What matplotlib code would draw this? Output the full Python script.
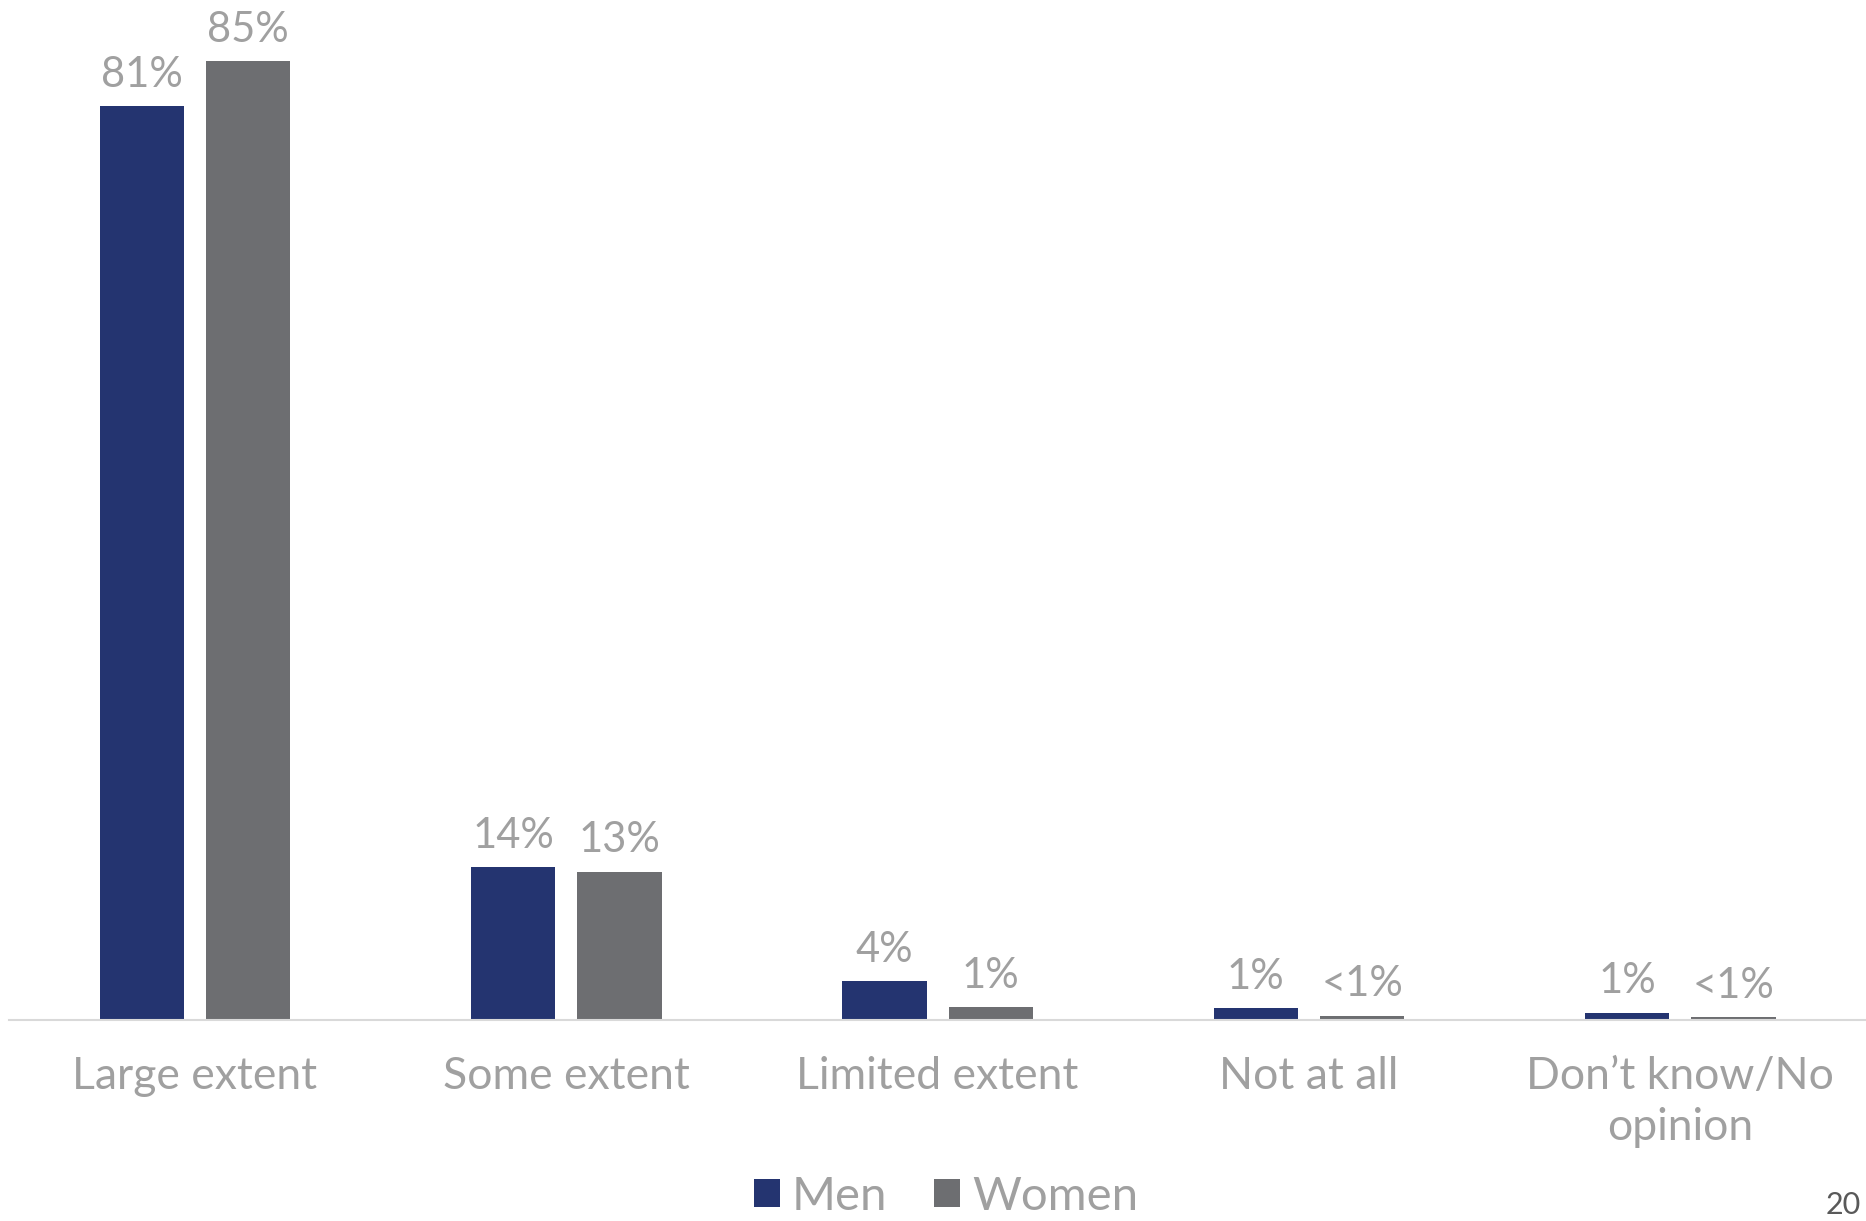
import numpy as np
import matplotlib.pyplot as plt

categories = ['Large extent', 'Some extent', 'Limited extent', 'Not at all', 'Don\u2019t know/No\nopinion']
men = [81, 13.5, 3.4, 1.0, 0.6]
women = [85, 13.1, 1.1, 0.35, 0.2]
men_labels = ['81%', '14%', '4%', '1%', '1%']
women_labels = ['85%', '13%', '1%', '<1%', '<1%']

navy = '#243470'
grey = '#6D6E71'
text_grey = '#A0A0A0'

plt.rcParams['font.family'] = ['Lato', 'DejaVu Sans']

fig = plt.figure(figsize=(18.66, 12.21), dpi=100)
ax = fig.add_axes([0.005, 0.165, 0.995, 0.831])

x = np.arange(len(categories))
w = 0.227
off = 0.143
b1 = ax.bar(x - off, men, w, color=navy, label='Men')
b2 = ax.bar(x + off, women, w, color=grey, label='Women')

for bars, labs in ((b1, men_labels), (b2, women_labels)):
    for rect, lab in zip(bars, labs):
        ax.annotate(lab, (rect.get_x() + rect.get_width() / 2, rect.get_height()),
                    xytext=(0, 9), textcoords='offset points',
                    ha='center', va='bottom', fontsize=30, color=text_grey)

ax.set_xlim(-0.5, 4.5)
ax.set_ylim(0, 90)
ax.set_xticks(x)
ax.set_xticklabels(categories, fontsize=32, color=text_grey, linespacing=1.3)
ax.tick_params(axis='x', length=0, pad=26)
ax.set_yticks([])
for s in ['top', 'right', 'left']:
    ax.spines[s].set_visible(False)
ax.spines['bottom'].set_color('#D9D9D9')
ax.spines['bottom'].set_linewidth(1.5)

leg = fig.legend(loc='center', bbox_to_anchor=(0.507, 0.02), ncol=2, frameon=False,
                 fontsize=34, handlelength=0.55, handleheight=0.55, handletextpad=0.25,
                 columnspacing=1.0, labelcolor=text_grey)

fig.text(0.988, 0.002, '20', fontsize=22, color='#595959', ha='center', va='bottom')

fig.savefig('out.png', dpi=100)
